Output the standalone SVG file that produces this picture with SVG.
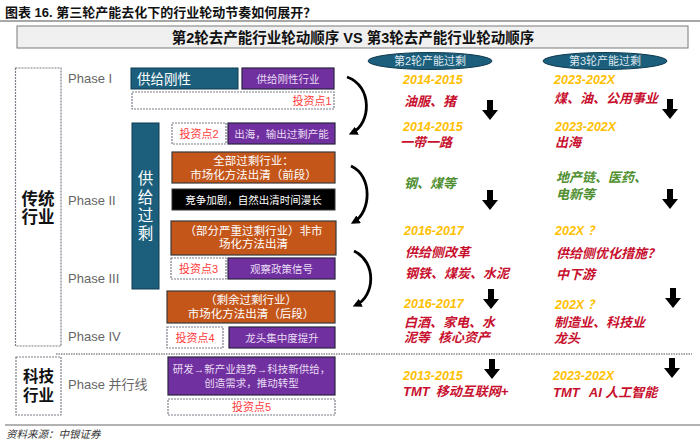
<svg xmlns="http://www.w3.org/2000/svg" width="700" height="444" viewBox="0 0 700 444">
<defs>
<style>
.cn{font-family:"Liberation Sans","Noto Sans CJK SC",sans-serif}
.ph{font-family:"Liberation Sans","Noto Sans CJK SC",sans-serif;font-size:13px;fill:#666}
.teal{fill:#1b5f7d;stroke:#0f3a4e;stroke-width:1}
.pur{fill:#7030a0;stroke:#2b2340;stroke-width:1.2}
.org{fill:#c4561a;stroke:#3a3a3a;stroke-width:1.2}
.dot{fill:#fff;stroke:#7a7f88;stroke-width:1.2;stroke-dasharray:2 1}
.pt{font-size:10.5px;fill:#e8dcf2;text-anchor:middle}
.ot{font-size:11.5px;fill:#fff;text-anchor:middle}
.rt{font-size:11px;fill:#ff3b3b;text-anchor:middle}
.yr{font-size:12.5px;font-weight:bold;font-style:italic;fill:#ffc000}
.rd{font-size:13px;font-weight:bold;font-style:italic;fill:#c8102e;white-space:pre}
.gr{font-size:13px;font-weight:bold;font-style:italic;fill:#4f8f2f}
.big{font-size:16.5px;font-weight:bold;fill:#111;text-anchor:middle}
.curve{fill:none;stroke:#000;stroke-width:2.8;marker-end:url(#ah)}
</style>
<marker id="ah" viewBox="0 0 10 10" refX="6" refY="5" markerWidth="3.2" markerHeight="3.2" orient="auto">
<path d="M0,0 L10,5 L0,10 Z" fill="#000"/>
</marker>
<path id="darr" d="M-3,0 H3 V10 H8 L0,20 L-8,10 H-3 Z" fill="#000"/>
</defs>
<rect width="700" height="444" fill="#fff"/>

<g id="title">
<text x="5" y="17" class="cn" font-size="13" font-weight="bold" fill="#111">图表 16. 第三轮产能去化下的行业轮动节奏如何展开？</text>
<line x1="0" y1="21" x2="700" y2="21" stroke="#8a8a8a" stroke-width="1.6"/>
</g>

<g id="header">
<rect x="17" y="26" width="671" height="22" fill="#f0f0f0" stroke="#7a7a7a" stroke-width="1"/>
<text x="353" y="42.5" class="cn" font-size="14.5" font-weight="bold" fill="#111" text-anchor="middle">第2轮去产能行业轮动顺序 VS 第3轮去产能行业轮动顺序</text>
</g>

<g id="ell2">
<ellipse cx="430" cy="61" rx="62" ry="8.5" fill="#1b5f7d" stroke="#0f3a4e"/>
<text x="430" y="65" class="cn" font-size="11" fill="#dfe8ee" text-anchor="middle">第2轮产能过剩</text>
</g>
<g id="ell3">
<ellipse cx="605" cy="61" rx="62" ry="8.5" fill="#1b5f7d" stroke="#0f3a4e"/>
<text x="605" y="65" class="cn" font-size="11" fill="#dfe8ee" text-anchor="middle">第3轮产能过剩</text>
</g>

<g id="trad">
<rect x="15.5" y="68" width="45.5" height="278" class="dot"/>
<text x="38" y="205" class="cn big">传统</text>
<text x="38" y="223" class="cn big">行业</text>
</g>
<g id="tech">
<rect x="16" y="357" width="45" height="58" class="dot"/>
<text x="38.5" y="382" class="cn big" font-size="15.5" style="font-size:15.5px">科技</text>
<text x="38.5" y="401" class="cn big" font-size="15.5" style="font-size:15.5px">行业</text>
</g>

<g id="phases">
<text x="68" y="83" class="ph">Phase I</text>
<text x="68" y="205" class="ph">Phase II</text>
<text x="68" y="283" class="ph">Phase III</text>
<text x="68" y="341" class="ph">Phase IV</text>
<text x="68" y="389" class="ph">Phase 并行线</text>
</g>

<g id="rigid">
<rect x="131" y="68" width="107" height="21" class="teal"/>
<text x="137" y="84" class="cn" font-size="13.5" fill="#fff">供给刚性</text>
</g>
<g id="rigidInd">
<rect x="242" y="68" width="92" height="21" class="pur"/>
<text x="288" y="82.5" class="cn pt">供给刚性行业</text>
</g>
<g id="inv1">
<rect x="132" y="92" width="202" height="17" class="dot"/>
<text x="312" y="104.5" class="cn rt">投资点1</text>
</g>

<g id="surplus">
<rect x="132" y="123" width="27" height="166" class="teal"/>
<text class="cn" font-size="15.5" fill="#fff" text-anchor="middle">
<tspan x="145.5" y="184">供</tspan><tspan x="145.5" y="203">给</tspan><tspan x="145.5" y="221">过</tspan><tspan x="145.5" y="239">剩</tspan>
</text>
</g>

<g id="inv2">
<rect x="172" y="123" width="54" height="21" class="dot"/>
<text x="199" y="138" class="cn rt">投资点2</text>
</g>
<g id="export">
<rect x="228" y="123" width="107" height="21" class="pur"/>
<text x="281.5" y="137.5" class="cn pt">出海，输出过剩产能</text>
</g>
<g id="allSurplus">
<rect x="172" y="152" width="163" height="31" class="org"/>
<text x="253.5" y="165" class="cn ot">全部过剩行业：</text>
<text x="253.5" y="179" class="cn ot">市场化方法出清（前段）</text>
</g>
<g id="compete">
<rect x="172" y="189" width="163" height="21" fill="#000" stroke="#333"/>
<text x="253.5" y="203.5" class="cn pt" style="fill:#fff">竞争加剧，自然出清时间漫长</text>
</g>
<g id="partSurplus">
<rect x="171" y="221" width="165" height="34" class="org"/>
<text x="253.5" y="235" class="cn ot">（部分严重过剩行业）非市</text>
<text x="253.5" y="248" class="cn ot">场化方法出清</text>
</g>
<g id="inv3">
<rect x="171" y="258" width="55" height="21" class="dot"/>
<text x="198.5" y="273" class="cn rt">投资点3</text>
</g>
<g id="policy">
<rect x="228" y="258" width="107" height="21" class="pur"/>
<text x="281.5" y="272.5" class="cn pt">观察政策信号</text>
</g>
<g id="restSurplus">
<rect x="167" y="291" width="168" height="32" class="org"/>
<text x="251" y="304" class="cn ot">（剩余过剩行业）</text>
<text x="251" y="318" class="cn ot">市场化方法出清（后段）</text>
</g>
<g id="inv4">
<rect x="167" y="327" width="56" height="21" class="dot"/>
<text x="195" y="342" class="cn rt">投资点4</text>
</g>
<g id="leader">
<rect x="229" y="327" width="106" height="21" class="pur"/>
<text x="282" y="341.5" class="cn pt">龙头集中度提升</text>
</g>

<line x1="56" y1="354" x2="692" y2="354" stroke="#8a8a8a" stroke-width="1.3" stroke-dasharray="1.5 1"/>

<g id="rnd">
<rect x="168" y="357" width="167" height="38" class="pur"/>
<text x="251.5" y="372.5" class="cn pt">研发→新产业趋势→科技新供给，</text>
<text x="251.5" y="387" class="cn pt">创造需求，推动转型</text>
</g>
<g id="inv5">
<rect x="168" y="399" width="167" height="16" class="dot"/>
<text x="251.5" y="411" class="cn rt">投资点5</text>
</g>

<g id="connectors">
<path class="curve" d="M347,77 C373,86 371,124 352,133"/>
<path class="curve" d="M351,166 C373,176 371,212 354,222"/>
<path class="curve" d="M354,251 C377,262 375,296 356,305"/>
<use href="#darr" x="490" y="100"/>
<use href="#darr" x="490" y="190"/>
<use href="#darr" x="491" y="289"/>
<use href="#darr" x="492" y="359"/>
<use href="#darr" x="670" y="99"/>
<use href="#darr" x="670" y="189"/>
<use href="#darr" x="673" y="288"/>
<use href="#darr" x="672" y="358"/>
</g>

<g id="col2" class="cn">
<text x="403" y="84" class="yr">2014-2015</text>
<text x="404" y="106" class="rd">油服、猪</text>
<text x="403" y="131" class="yr">2014-2015</text>
<text x="400" y="147" class="rd">一带一路</text>
<text x="404" y="188" class="gr">钢、煤等</text>
<text x="404" y="235" class="yr">2016-2017</text>
<text x="405" y="257" class="rd">供给侧改革</text>
<text x="405" y="278" class="rd">钢铁、煤炭、水泥</text>
<text x="404" y="308" class="yr">2016-2017</text>
<text x="404" y="327" class="rd">白酒、家电、水</text>
<text x="404" y="342" class="rd">泥等<tspan dx="8">核心资产</tspan></text>
<text x="403" y="380" class="yr">2013-2015</text>
<text x="403" y="396" class="rd">TMT<tspan dx="6">移动互联网+</tspan></text>
</g>

<g id="col3" class="cn">
<text x="554" y="84" class="yr">2023-202X</text>
<text x="554" y="103" class="rd">煤、油、公用事业</text>
<text x="555" y="131" class="yr">2023-202X</text>
<text x="555" y="147" class="rd">出海</text>
<text x="556" y="182" class="gr">地产链、医药、</text>
<text x="556" y="199" class="gr">电新等</text>
<text x="555" y="235" class="yr">202X ？</text>
<text x="556" y="258" class="rd">供给侧优化措施？</text>
<text x="556" y="279" class="rd">中下游</text>
<text x="555" y="309" class="yr">202X ？</text>
<text x="554" y="327" class="rd">制造业、科技业</text>
<text x="554" y="343" class="rd">龙头</text>
<text x="553" y="380" class="yr">2023-202X</text>
<text x="553" y="397" class="rd">TMT<tspan dx="10">AI 人工智能</tspan></text>
</g>

<g id="footer">
<line x1="5" y1="425" x2="700" y2="425" stroke="#666" stroke-width="1"/>
<text x="6" y="438" class="cn" font-size="10.5" font-style="italic" fill="#333">资料来源：中银证券</text>
</g>
</svg>
